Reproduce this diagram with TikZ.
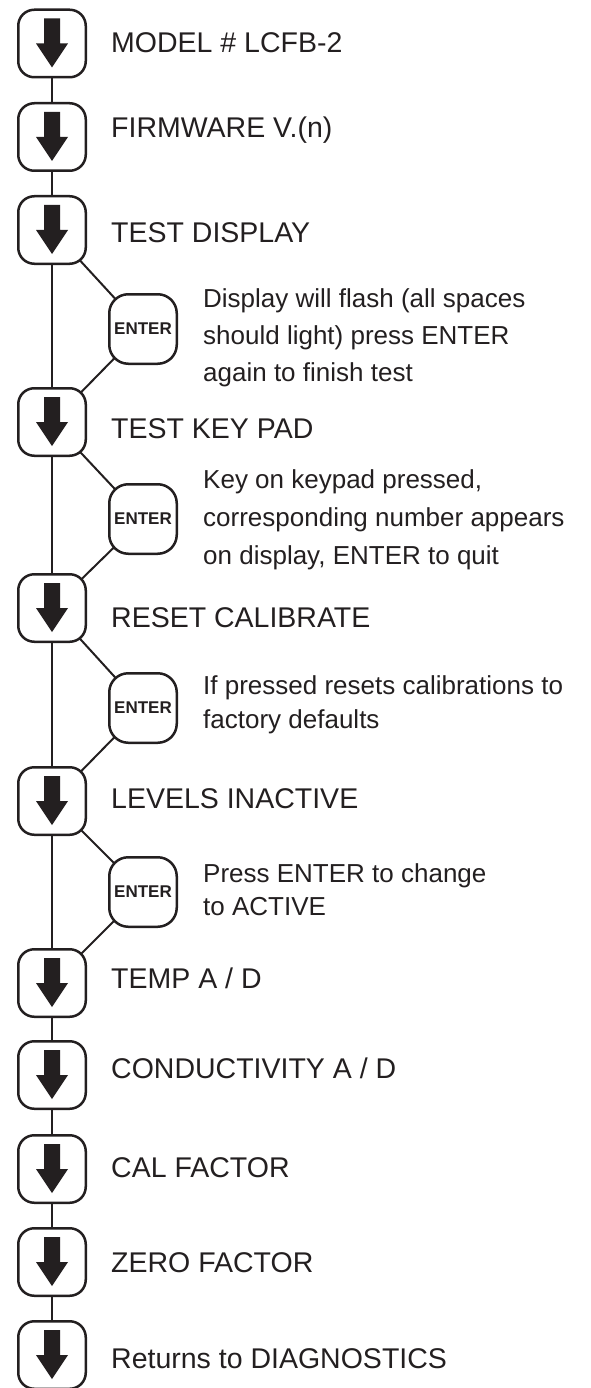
\documentclass[tikz,border=0pt]{standalone}
\usepackage{fontspec}
\setmainfont{Liberation Sans}
\usetikzlibrary{backgrounds}
\definecolor{ink}{RGB}{35,31,32}
\tikzset{
 stepbtn/.style={draw=ink, line width=2.5pt, rounded corners=16pt, minimum width=67.5pt, minimum height=67.5pt, fill=white, inner sep=0pt},
 enterbtn/.style={draw=ink, line width=2.5pt, rounded corners=19pt, minimum width=67.5pt, minimum height=69.5pt, fill=white, inner sep=0pt, font=\bfseries\fontsize{17}{17}\selectfont, text=ink},
 lbl/.style={anchor=base west, inner sep=0pt, text=ink, font=\fontsize{28.5}{34}\selectfont},
 desc/.style={anchor=base west, inner sep=0pt, text=ink, align=left},
 link/.style={draw=ink, line width=2pt},
}
\begin{document}
\begin{tikzpicture}[x=1pt,y=-1pt]
\useasboundingbox (0,0) rectangle (591,1388);
% step buttons
\node[stepbtn] (b1) at (52,43.5) {};
\node[stepbtn] (b2) at (52,137) {};
\node[stepbtn] (b3) at (52,230) {};
\node[stepbtn] (b4) at (52,422) {};
\node[stepbtn] (b5) at (52,608) {};
\node[stepbtn] (b6) at (52,801) {};
\node[stepbtn] (b7) at (52,983) {};
\node[stepbtn] (b8) at (52,1075) {};
\node[stepbtn] (b9) at (52,1169) {};
\node[stepbtn] (b10) at (52,1262) {};
\node[stepbtn] (b11) at (52,1355) {};
% enter buttons
\node[enterbtn] (e1) at (143,329) {ENTER};
\node[enterbtn] (e2) at (143,519) {ENTER};
\node[enterbtn] (e3) at (143,708) {ENTER};
\node[enterbtn] (e4) at (143,892) {ENTER};
% arrows
\foreach \n in {b1,b2,b3,b4,b5,b6,b7,b8,b9,b10,b11}{
  \fill[ink] ([shift={(-8,-25)}]\n.center) -- ([shift={(8,-25)}]\n.center) -- ([shift={(8,0)}]\n.center) -- ([shift={(16,0)}]\n.center) -- ([shift={(0,24)}]\n.center) -- ([shift={(-16,0)}]\n.center) -- ([shift={(-8,0)}]\n.center) -- cycle;
}
% connectors
\begin{pgfonlayer}{background}
\draw[link] (b1.center) -- (b2.center);
\draw[link] (b2.center) -- (b3.center);
\draw[link] (b3.center) -- (b4.center);
\draw[link] (b4.center) -- (b5.center);
\draw[link] (b5.center) -- (b6.center);
\draw[link] (b6.center) -- (b7.center);
\draw[link] (b7.center) -- (b8.center);
\draw[link] (b8.center) -- (b9.center);
\draw[link] (b9.center) -- (b10.center);
\draw[link] (b10.center) -- (b11.center);
\draw[link] (b3.center) -- (e1.center) -- (b4.center);
\draw[link] (b4.center) -- (e2.center) -- (b5.center);
\draw[link] (b5.center) -- (e3.center) -- (b6.center);
\draw[link] (b6.center) -- (e4.center) -- (b7.center);
\end{pgfonlayer}
% labels
\node[lbl] (t1) at (111,53) {MODEL \# LCFB-2};
\node[lbl] (t2) at (111,138) {FIRMWARE V.(n)};
\node[lbl] (t3) at (111,243) {TEST DISPLAY};
\node[lbl] (t4) at (111,438) {TEST KEY PAD};
\node[lbl] (t5) at (111,627) {RESET CALIBRATE};
\node[lbl] (t6) at (111,808) {LEVELS INACTIVE};
\node[lbl] (t7) at (111,988) {TEMP A / D};
\node[lbl] (t8) at (111,1078) {CONDUCTIVITY A / D};
\node[lbl] (t9) at (111,1177) {CAL FACTOR};
\node[lbl] (t10) at (111,1272) {ZERO FACTOR};
\node[lbl] (t11) at (111,1368) {Returns to DIAGNOSTICS};
% descriptions (base anchor = last line baseline)
\node[desc, font=\fontsize{26}{37}\selectfont] (d1) at (203,381) {Display will flash (all spaces\\should light) press ENTER\\again to finish test};
\node[desc, font=\fontsize{26}{38}\selectfont] (d2) at (203,564) {Key on keypad pressed,\\corresponding number appears\\on display, ENTER to quit};
\node[desc, font=\fontsize{26}{34}\selectfont] (d3) at (203,728) {If pressed resets calibrations to\\factory defaults};
\node[desc, font=\fontsize{26}{33}\selectfont] (d4) at (203,915) {Press ENTER to change\\to ACTIVE};
\end{tikzpicture}
\end{document}
